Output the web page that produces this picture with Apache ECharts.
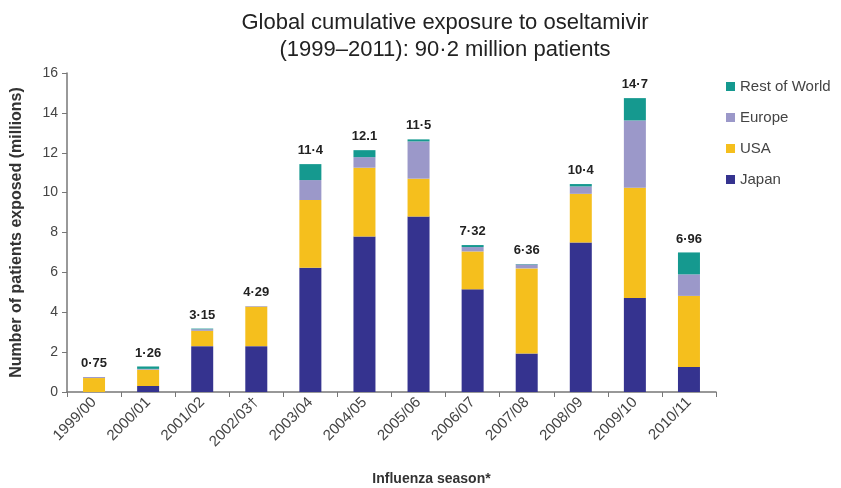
<!DOCTYPE html>
<html>
<head>
<meta charset="utf-8">
<script src="https://cdn.jsdelivr.net/npm/echarts@6/dist/echarts.min.js"></script>
<style>html,body{margin:0;padding:0;background:#fff}#c{width:841px;height:488px}</style>
</head>
<body>
<div id="c"></div>
<script>
const seasons = ['1999/00','2000/01','2001/02','2002/03\u2020','2003/04','2004/05','2005/06','2006/07','2007/08','2008/09','2009/10','2010/11'];
const japan  = [0,    0.30, 2.30, 2.30, 6.23, 7.80, 8.80, 5.15, 1.93, 7.50, 4.72, 1.26];
const usa    = [0.70, 0.82, 0.77, 1.98, 3.40, 3.45, 1.90, 1.90, 4.27, 2.44, 5.53, 3.56];
const europe = [0.05, 0.04, 0.08, 0.03, 1.00, 0.53, 1.87, 0.22, 0.20, 0.37, 3.37, 1.08];
const rest   = [0,    0.12, 0.03, 0,    0.80, 0.35, 0.10, 0.10, 0.02, 0.12, 1.12, 1.10];
const totalLabels = ['0\u00b775','1\u00b726','3\u00b715','4\u00b729','11\u00b74','12.1','11\u00b75','7\u00b732','6\u00b736','10\u00b74','14\u00b77','6\u00b796'];
const yTicks = { min: 0, max: 16, interval: 2 };

const chart = echarts.init(document.getElementById('c'), null, { renderer: 'canvas' });
const barW = 22;
const font = 'Liberation Sans, Arial, sans-serif';
chart.setOption({
  animation: false,
  textStyle: { fontFamily: font },
  title: {
    text: 'Global cumulative exposure to oseltamivir\n(1999\u20132011): 90\u00b72 million patients',
    left: 440, top: 4, textAlign: 'center',
    textStyle: { fontSize: 22, fontWeight: 'normal', color: '#222', lineHeight: 27, fontFamily: font }
  },
  legend: {
    orient: 'vertical', left: 721, top: 74,
    itemWidth: 9, itemHeight: 9, itemGap: 16, icon: 'rect',
    textStyle: { fontSize: 15, color: '#444', fontFamily: font },
    data: ['Rest of World', 'Europe', 'USA', 'Japan']
  },
  grid: { left: 67, right: 125, top: 73, bottom: 96, containLabel: false, outerBoundsMode: 'none' },
  xAxis: {
    type: 'category', data: seasons,
    name: 'Influenza season*', nameLocation: 'middle', nameGap: 80,
    nameTextStyle: { fontSize: 14, fontWeight: 'bold', color: '#333', padding: [0, 0, 0, 80] },
    axisLine: { lineStyle: { color: '#777', width: 1.5 } },
    axisTick: { show: true, length: 5, lineStyle: { color: '#777' } },
    axisLabel: { rotate: 45, fontSize: 15, color: '#444', margin: 8, interval: 0 }
  },
  yAxis: {
    type: 'value', min: yTicks.min, max: yTicks.max, interval: yTicks.interval,
    name: 'Number of patients exposed (millions)', nameLocation: 'middle', nameGap: 42,
    nameTextStyle: { fontSize: 16, fontWeight: 'bold', color: '#333' },
    axisLine: { show: true, lineStyle: { color: '#777', width: 1.5 } },
    axisTick: { show: true, length: 5, lineStyle: { color: '#777' } },
    axisLabel: { fontSize: 14, color: '#444', margin: 9 },
    splitLine: { show: false }
  },
  series: [
    { name: 'Japan', type: 'bar', stack: 'a', barWidth: barW, data: japan, itemStyle: { color: '#35338f' } },
    { name: 'USA', type: 'bar', stack: 'a', barWidth: barW, data: usa, itemStyle: { color: '#f5bf1d' } },
    { name: 'Europe', type: 'bar', stack: 'a', barWidth: barW, data: europe, itemStyle: { color: '#9b98c9' } },
    { name: 'Rest of World', type: 'bar', stack: 'a', barWidth: barW, data: rest, itemStyle: { color: '#15998f' } },
    { name: 'total', type: 'bar', stack: 'a', barWidth: barW, silent: true,
      data: totalLabels.map(() => 0),
      itemStyle: { color: 'transparent' },
      label: { show: true, position: 'top', distance: 7, fontSize: 13, fontWeight: 'bold', color: '#222',
        formatter: p => totalLabels[p.dataIndex] } }
  ]
});
</script>
</body>
</html>
